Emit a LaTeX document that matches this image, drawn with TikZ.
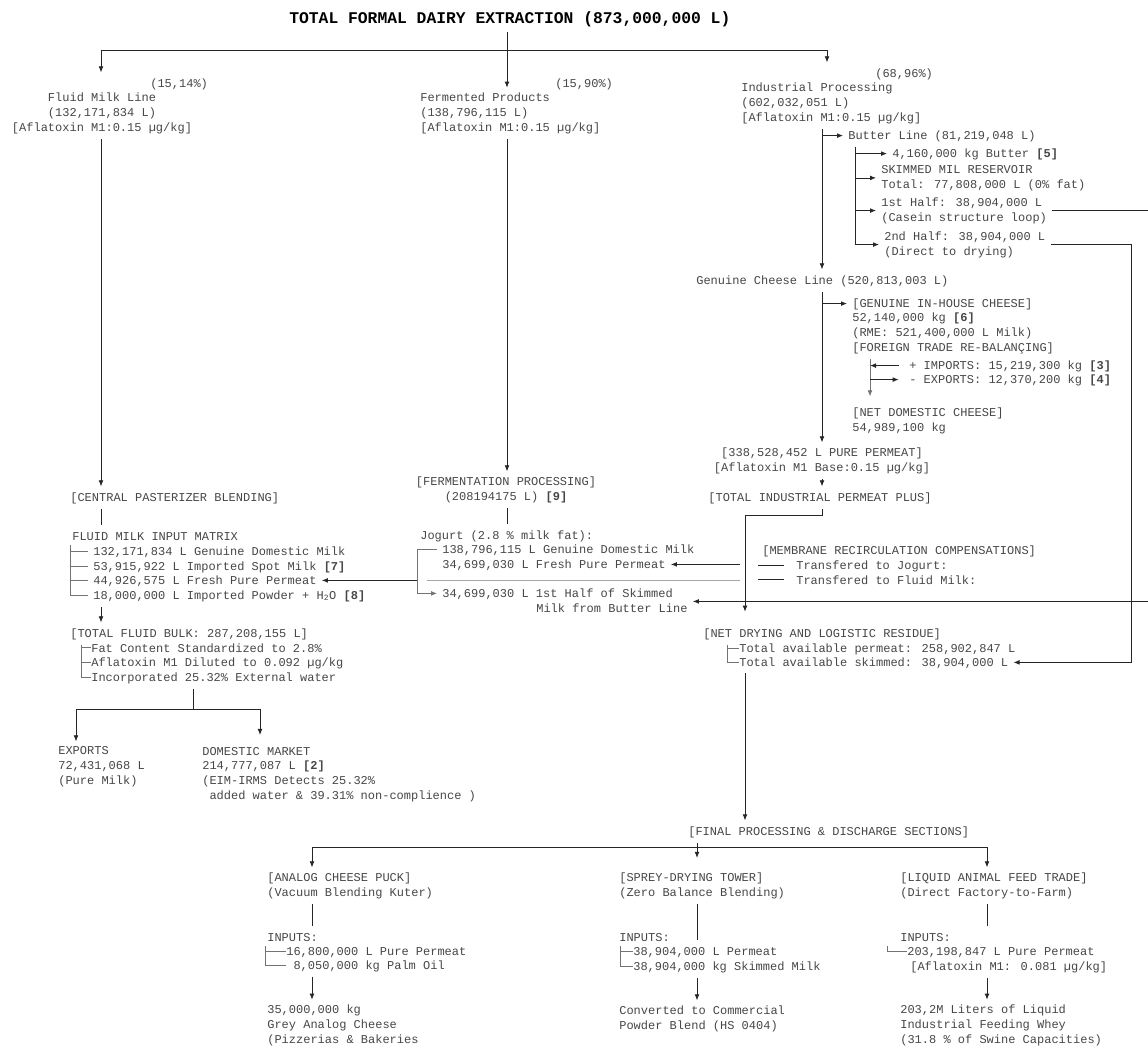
\documentclass[tikz,border=0pt]{standalone}
\usepackage{fontspec}
\usetikzlibrary{arrows.meta}
\newfontfamily\mono{Liberation Mono}

\begin{document}
\begin{tikzpicture}[x=0.75pt,y=-0.75pt,>={Latex[length=4.5pt,width=3.6pt]},
	blk/.style={anchor=base west,inner sep=0pt,outer sep=4pt,align=left,text=inkgray,font=\mono\fontsize{9}{11}\selectfont},
	txt/.style={blk,text height=7pt},
	ctr/.style={blk,anchor=base,align=center},
	link/.style={draw=black!85,line width=0.6pt},
	tree/.style={draw=black!55,line width=0.6pt}]

\definecolor{inkgray}{rgb}{0.28,0.28,0.28}

\useasboundingbox (0,0) rectangle (1148,1047);
\fill[white] (0,0) rectangle (1148,1047);

\coordinate (xF) at (101,0);
\coordinate (xM) at (507,0);
\coordinate (xP) at (827,0);
\coordinate (xI) at (822,0);
\coordinate (xB) at (855,0);
\coordinate (xT) at (870,0);
\coordinate (xR) at (1131,0);
\coordinate (xO) at (1170,0);
\coordinate (xD) at (745,0);
\coordinate (xDl) at (740,0);
\coordinate (xJ) at (417,0);
\coordinate (xK) at (427,0);
\coordinate (xMb) at (70,0);
\coordinate (xBb) at (81,0);
\coordinate (xDb) at (727,0);
\coordinate (xEx) at (76,0);
\coordinate (xDm) at (260,0);
\coordinate (xA) at (312,0);
\coordinate (xAb) at (265,0);
\coordinate (xS) at (697,0);
\coordinate (xSb) at (620,0);
\coordinate (xL) at (987,0);
\coordinate (xLb) at (887,0);
\coordinate (bus) at (0,50);
\coordinate (bend) at (0,515);
\coordinate (split) at (193,709);
\coordinate (fbus) at (0,847);

\node[txt,text=black,text height=9pt,font=\mono\bfseries\fontsize{12.25}{14}\selectfont] (title) at (284,23) {TOTAL FORMAL DAIRY EXTRACTION (873,000,000 L)};

\node[txt] (pct1) at (145,87) {(15,14\%)};
\node[ctr] (fml) at (102,131) {Fluid Milk Line\\(132,171,834 L)\\{}[Aflatoxin M1:0.15 µg/kg]};
\node[txt] (pct2) at (550,87) {(15,90\%)};
\node[blk] (fpr) at (415,131) {Fermented Products\\(138,796,115 L)\\{}[Aflatoxin M1:0.15 µg/kg]};
\node[txt] (pct3) at (870,77) {(68,96\%)};
\node[blk] (ind) at (736,121) {Industrial Processing\\(602,032,051 L)\\{}[Aflatoxin M1:0.15 µg/kg]};

\node[txt] (btl) at (843,139) {Butter Line (81,219,048 L)};
\node[txt] (bkg) at (887,157) {4,160,000 kg Butter \textbf{[5]}};
\node[blk] (skr) at (876,188) {SKIMMED MIL RESERVOIR\\Total: 77,808,000 L (0\% fat)};
\node[blk] (hf1) at (876,221) {1st Half: 38,904,000 L\\(Casein structure loop)};
\node[blk] (hf2) at (879,255) {2nd Half: 38,904,000 L\\(Direct to drying)};

\node[txt] (gcl) at (691,284) {Genuine Cheese Line (520,813,003 L)};
\node[txt] (gic) at (847,307) {[GENUINE IN-HOUSE CHEESE]};
\node[blk] (gck) at (847,351) {52,140,000 kg \textbf{[6]}\\(RME: 521,400,000 L Milk)\\{}[FOREIGN TRADE RE-BALANÇING]};
\node[txt] (imp) at (904,369) {+ IMPORTS: 15,219,300 kg \textbf{[3]}};
\node[txt] (exp) at (904,383) {- EXPORTS: 12,370,200 kg \textbf{[4]}};
\node[blk] (ndc) at (847,431) {[NET DOMESTIC CHEESE]\\54,989,100 kg};
\node[ctr] (ppm) at (822,471) {[338,528,452 L PURE PERMEAT]\\{}[Aflatoxin M1 Base:0.15 µg/kg]};
\node[ctr,text height=7pt] (tip) at (820,501) {[TOTAL INDUSTRIAL PERMEAT PLUS]};

\node[txt] (mrc) at (757,554) {[MEMBRANE RECIRCULATION COMPENSATIONS]};
\node[txt] (trj) at (791,569) {Transfered to Jogurt:};
\node[txt] (trf) at (791,584) {Transfered to Fluid Milk:};

\node[ctr] (fer) at (506,500) {[FERMENTATION PROCESSING]\\(208194175 L) \textbf{[9]}};
\node[txt] (jog) at (415,539) {Jogurt (2.8 \% milk fat):};
\node[txt] (jg1) at (437,553) {138,796,115 L Genuine Domestic Milk};
\node[txt] (jg2) at (437,568) {34,699,030 L Fresh Pure Permeat};
\node[txt] (jg3) at (437,597) {34,699,030 L 1st Half of Skimmed};
\node[txt] (jg4) at (531,612) {Milk from Butter Line};
\coordinate (jgin) at ([yshift=4.5pt]jg4.east);

\node[txt] (cpb) at (65,501) {[CENTRAL PASTERIZER BLENDING]};
\node[txt] (fmi) at (67,540) {FLUID MILK INPUT MATRIX};
\node[txt] (fm1) at (88,555) {132,171,834 L Genuine Domestic Milk};
\node[txt] (fm2) at (88,570) {53,915,922 L Imported Spot Milk \textbf{[7]}};
\node[txt] (fm3) at (88,584) {44,926,575 L Fresh Pure Permeat};
\node[txt] (fm4) at (88,599) {18,000,000 L Imported Powder + H\textsubscript{2}O \textbf{[8]}};
\node[txt] (tfb) at (65,637) {[TOTAL FLUID BULK: 287,208,155 L]};
\node[txt] (fb1) at (86,652) {Fat Content Standardized to 2.8\%};
\node[txt] (fb2) at (86,666) {Aflatoxin M1 Diluted to 0.092 µg/kg};
\node[txt] (fb3) at (86,681) {Incorporated 25.32\% External water};
\node[blk] (exq) at (53,784) {EXPORTS\\72,431,068 L\\(Pure Milk)};
\node[blk] (dmk) at (197,799) {DOMESTIC MARKET\\214,777,087 L \textbf{[2]}\\(EIM-IRMS Detects 25.32\%\\~added water \& 39.31\% non-complience )};

\node[txt] (ndr) at (698,637) {[NET DRYING AND LOGISTIC RESIDUE]};
\node[txt] (ta1) at (734,652) {Total available permeat: 258,902,847 L};
\node[txt] (ta2) at (734,666) {Total available skimmed: 38,904,000 L};

\node[txt] (fin) at (683,835) {[FINAL PROCESSING \& DISCHARGE SECTIONS]};
\node[blk] (acp) at (262,896) {[ANALOG CHEESE PUCK]\\(Vacuum Blending Kuter)};
\node[txt] (ain) at (262,941) {INPUTS:};
\node[txt] (ai1) at (281,955) {16,800,000 L Pure Permeat};
\node[txt] (ai2) at (281,969) {\hphantom{1}8,050,000 kg Palm Oil};
\node[blk] (aout) at (262,1043) {35,000,000 kg\\Grey Analog Cheese\\(Pizzerias \& Bakeries};
\node[blk] (sdt) at (614,896) {[SPREY-DRYING TOWER]\\(Zero Balance Blending)};
\node[txt] (sin) at (614,941) {INPUTS:};
\node[txt] (si1) at (628,955) {38,904,000 L Permeat};
\node[txt] (si2) at (628,970) {38,904,000 kg Skimmed Milk};
\node[blk] (sout) at (614,1029) {Converted to Commercial\\Powder Blend (HS 0404)};
\node[blk] (lft) at (895,896) {[LIQUID ANIMAL FEED TRADE]\\(Direct Factory-to-Farm)};
\node[txt] (lin) at (895,941) {INPUTS:};
\node[txt] (li1) at (902,955) {203,198,847 L Pure Permeat};
\node[txt] (li2) at (905,970) {[Aflatoxin M1: 0.081 µg/kg]};
\node[blk] (lout) at (895,1043) {203,2M Liters of Liquid\\Industrial Feeding Whey\\(31.8 \% of Swine Capacities)};

\draw[link,->] (title.south -| xM) -- (fpr.north -| xM);
\draw[link] (bus -| xF) -- (bus -| xP);
\draw[link,->] (bus -| xF) -- (pct1.north -| xF);
\draw[link,->] (bus -| xP) -- (pct3.north -| xP);
\draw[link,->] (fml.south -| xF) -- (cpb.north -| xF);
\draw[link,->] (fpr.south -| xM) -- (fer.north -| xM);

\draw[link,->] (ind.south -| xI) -- (gcl.north -| xI);
\draw[link,->] (btl.west -| xI) -- (btl.west);
\draw[link] (btl.south -| xB) -- (hf2.west -| xB);
\foreach \n in {bkg,skr,hf1,hf2}
	\draw[link,->] (\n.west -| xB) -- (\n.west);
\draw[link,->] (hf1.east) -- (hf1.east -| xO) -- (jgin -| xO) -- (jgin);
\draw[link,->] (hf2.east) -- (hf2.east -| xR) -- (ta2.east -| xR) -- (ta2.east);

\draw[link,->] (gcl.south -| xI) -- (ppm.north -| xI);
\draw[link,->] (gic.west -| xI) -- (gic.west);
\draw[tree,->,shorten >=4.5pt] (gck.south -| xT) -- (ndc.north -| xT);
\draw[link,->] ([xshift=-4pt]imp.west) -- (imp.west -| xT);
\draw[link,->] (exp.west -| xT) -- ([xshift=-4pt]exp.west);
\draw[link,->] (ppm.south -| xI) -- (tip.north -| xI);
\draw[link,->,shorten >=8pt] (tip.south -| xI) |- (bend -| xD) -- (ndr.north -| xD);

\draw[link,->] (jg2.east -| xDl) -- (jg2.east);
\draw[draw=black!35,line width=0.6pt] (fm3.east -| xDl) -- (fm3.east -| xK);
\draw[link,->] (fm3.east -| xJ) -- (fm3.east);
\foreach \n in {trj,trf}
	\draw[link] (\n.west) ++(-5.5pt,0pt) -- ++(-26,0);
\draw[link] (fer.south -| xM) -- (jog.north -| xM);
\draw[tree,->] (jg1.west) -- (jg1.west -| xJ) -- (jg3.west -| xJ) -- (jg3.west);

\draw[link] (cpb.south -| xF) -- (fmi.north -| xF);
\draw[tree] (fmi.south -| xMb) |- (fm4.west);
\foreach \n in {fm1,fm2,fm3}
	\draw[tree] (\n.west -| xMb) -- (\n.west);
\draw[link,->] (fm4.south -| xF) -- (tfb.north -| xF);
\draw[tree] (tfb.south -| xBb) |- ([xshift=3.5pt]fb3.west);
\foreach \n in {fb1,fb2}
	\draw[tree] (\n.west -| xBb) -- ([xshift=3.5pt]\n.west);
\draw[link] (fb3.south -| split) -- (split);
\draw[link,->] (split) -| (exq.north -| xEx);
\draw[link,->,shorten >=5pt] (split) -| (dmk.north -| xDm);

\draw[tree] (ndr.south -| xDb) |- ([xshift=3.5pt]ta2.west);
\draw[tree] (ta1.west -| xDb) -- ([xshift=3.5pt]ta1.west);
\draw[link,->] (ta2.south -| xD) -- (fin.north -| xD);

\draw[link,->] (fin.south -| xS) -- ++(0,15);
\draw[link] (fbus -| xA) -- (fbus -| xL);
\draw[link,->] (fbus -| xA) -- (acp.north -| xA);
\draw[link,->] (fbus -| xL) -- (lft.north -| xL);

\draw[link] (acp.south -| xA) -- (ain.north -| xA);
\draw[tree] (ain.south -| xAb) |- ([xshift=3.5pt]ai2.west);
\draw[tree] (ai1.west -| xAb) -- ([xshift=3.5pt]ai1.west);
\draw[link,->] (ai2.south -| xA) -- (aout.north -| xA);

\draw[link] (sdt.south -| xS) -- (si1.north -| xS);
\draw[tree] (sin.south -| xSb) |- ([xshift=3.5pt]si2.west);
\draw[tree] (si1.west -| xSb) -- ([xshift=3.5pt]si1.west);
\draw[link,->] (si2.south -| xS) -- (sout.north -| xS);

\draw[link] (lft.south -| xL) -- (lin.north -| xL);
\draw[tree] (lin.south -| xLb) |- ([xshift=3.5pt]li1.west);
\draw[link,->] (li2.south -| xL) -- (lout.north -| xL);

\end{tikzpicture}
\end{document}
